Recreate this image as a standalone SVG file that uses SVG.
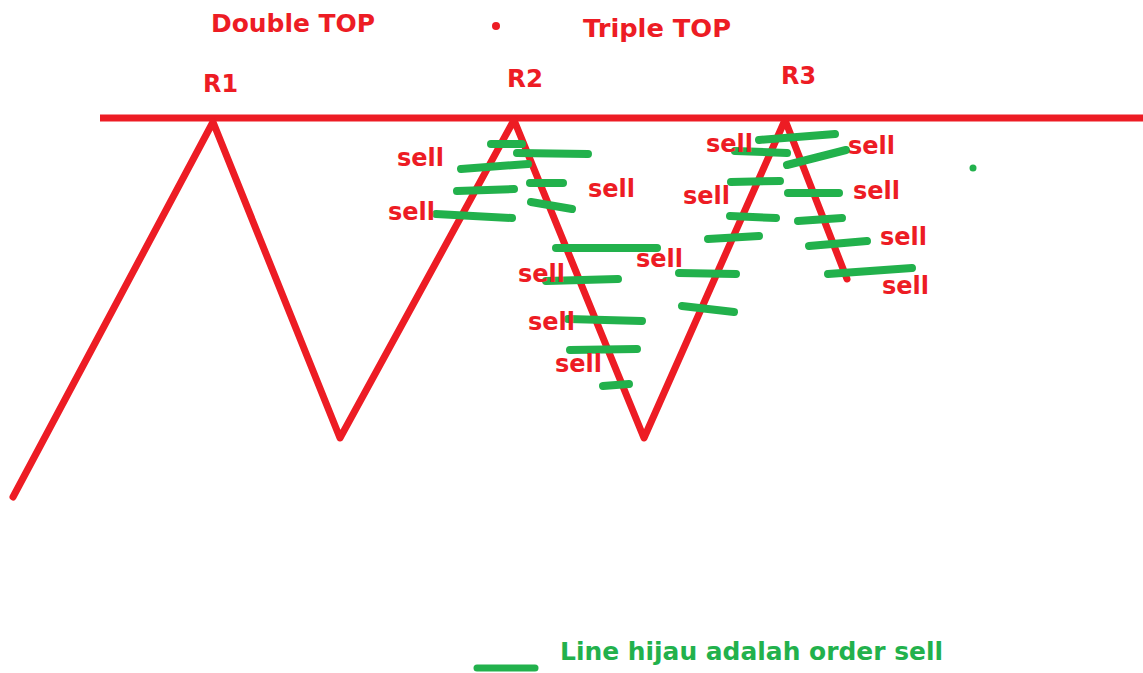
<svg xmlns="http://www.w3.org/2000/svg" width="1143" height="673" viewBox="0 0 1143 673">
<style>
.t{font-family:"DejaVu Sans","Liberation Sans",sans-serif;font-weight:bold;font-size:24px;fill:#ED1C24}
.g{fill:#22B14C}
.red{stroke:#ED1C24;stroke-width:7;fill:none;stroke-linejoin:round;stroke-linecap:round}
.gl{stroke:#22B14C;stroke-width:8;stroke-linecap:round;fill:none}
</style>
<rect width="1143" height="673" fill="#fff"/>
<g id="titles">
<text class="t" x="211" y="32" textLength="164" lengthAdjust="spacingAndGlyphs">Double TOP</text>
<text class="t" x="583" y="37" textLength="148" lengthAdjust="spacingAndGlyphs">Triple TOP</text>
<circle cx="496" cy="26" r="4" fill="#ED1C24"/>
<text class="t" x="203" y="92" textLength="35" lengthAdjust="spacingAndGlyphs">R1</text>
<text class="t" x="507" y="87" textLength="36" lengthAdjust="spacingAndGlyphs">R2</text>
<text class="t" x="781" y="84" textLength="35" lengthAdjust="spacingAndGlyphs">R3</text>
</g>
<g id="resistance">
<line x1="100" y1="118" x2="1143" y2="118" stroke="#ED1C24" stroke-width="7"/>
</g>
<g id="price">
<polyline class="red" points="13,497 213,122 340,438 514,120 644,438 785,120 847,279"/>
</g>
<g id="orders">
<line class="gl" x1="491" y1="144" x2="522" y2="144"/>
<line class="gl" x1="517" y1="153" x2="588" y2="154"/>
<line class="gl" x1="461" y1="169" x2="528" y2="164"/>
<line class="gl" x1="457" y1="191" x2="514" y2="189"/>
<line class="gl" x1="436" y1="214" x2="512" y2="218"/>
<line class="gl" x1="530" y1="183" x2="563" y2="183"/>
<line class="gl" x1="531" y1="202" x2="572" y2="209"/>
<line class="gl" x1="556" y1="248" x2="657" y2="248"/>
<line class="gl" x1="546" y1="281" x2="618" y2="279"/>
<line class="gl" x1="568" y1="319" x2="642" y2="321"/>
<line class="gl" x1="570" y1="350" x2="637" y2="349"/>
<line class="gl" x1="603" y1="386" x2="629" y2="384"/>
<line class="gl" x1="759" y1="140" x2="835" y2="134"/>
<line class="gl" x1="735" y1="151" x2="787" y2="153"/>
<line class="gl" x1="787" y1="165" x2="846" y2="150"/>
<line class="gl" x1="731" y1="182" x2="780" y2="181"/>
<line class="gl" x1="788" y1="193" x2="839" y2="193"/>
<line class="gl" x1="730" y1="216" x2="776" y2="218"/>
<line class="gl" x1="798" y1="221" x2="842" y2="218"/>
<line class="gl" x1="708" y1="239" x2="759" y2="236"/>
<line class="gl" x1="809" y1="246" x2="867" y2="241"/>
<line class="gl" x1="679" y1="273" x2="736" y2="274"/>
<line class="gl" x1="828" y1="274" x2="912" y2="268"/>
<line class="gl" x1="682" y1="306" x2="734" y2="312"/>
<circle cx="973" cy="168" r="3.5" class="g"/>
</g>
<g id="sell-labels">
<text class="t" x="397" y="166">sell</text>
<text class="t" x="388" y="220">sell</text>
<text class="t" x="588" y="197">sell</text>
<text class="t" x="636" y="267">sell</text>
<text class="t" x="518" y="282">sell</text>
<text class="t" x="528" y="330">sell</text>
<text class="t" x="555" y="372">sell</text>
<text class="t" x="706" y="152">sell</text>
<text class="t" x="848" y="154">sell</text>
<text class="t" x="683" y="204">sell</text>
<text class="t" x="853" y="199">sell</text>
<text class="t" x="880" y="245">sell</text>
<text class="t" x="882" y="294">sell</text>
</g>
<g id="legend">
<line x1="477" y1="668" x2="535" y2="668" stroke="#22B14C" stroke-width="7" stroke-linecap="round"/>
<text class="t" x="560" y="660" style="fill:#22B14C" textLength="383" lengthAdjust="spacingAndGlyphs">Line hijau adalah order sell</text>
</g>
</svg>
